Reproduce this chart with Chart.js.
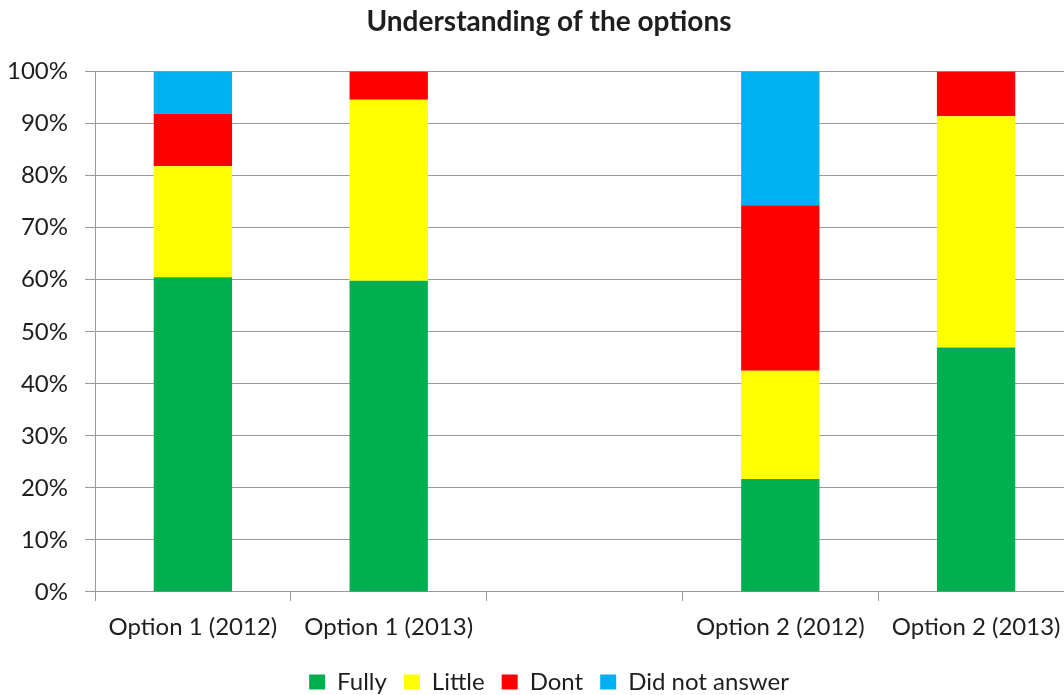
<!DOCTYPE html>
<html>
<head>
<meta charset="utf-8">
<title>Understanding of the options</title>
<script src="https://cdn.jsdelivr.net/npm/chart.js@4.4.1/dist/chart.umd.min.js"></script>
<style>
  html, body { margin: 0; padding: 0; background: #fff; overflow: hidden; }
  #wrap { width: 1098px; height: 695px; }
</style>
</head>
<body>
<div id="wrap"><canvas id="myChart"></canvas></div>
<script>
// categories (the blank one leaves the gap between option 1 and option 2)
const labels = ['Option 1 (2012)', 'Option 1 (2013)', '', 'Option 2 (2012)', 'Option 2 (2013)'];

// share of answers, %
const fully  = [60.5, 59.8, null, 21.7, 47.0];
const little = [21.3, 34.8, null, 20.8, 44.4];
const dont   = [10.1,  5.4, null, 31.8,  8.6];
const noAns  = [ 8.1,  0.0, null, 25.7,  0.0];

const yTicks = [0, 10, 20, 30, 40, 50, 60, 70, 80, 90, 100];

const ctx = document.getElementById('myChart');
const FONT = 'Lato, "Liberation Sans", sans-serif';
const GRID = '#9a9a9a';
const TEXT = '#1e1e1e';

new Chart(ctx, {
  type: 'bar',
  data: {
    labels: labels,
    datasets: [
      { label: 'Fully', data: fully, backgroundColor: '#00B050' },
      { label: 'Little', data: little, backgroundColor: '#FFFF00' },
      { label: 'Dont', data: dont, backgroundColor: '#FF0000' },
      { label: 'Did not answer', data: noAns, backgroundColor: '#00B0F0' }
    ]
  },
  options: {
    responsive: true,
    maintainAspectRatio: false,
    animation: false,
    datasets: {
      bar: { categoryPercentage: 1.0, barPercentage: 0.4, borderWidth: 0 }
    },
    layout: { padding: { left: 0, right: 0, top: 0, bottom: -9 } },
    plugins: {
      title: {
        display: true,
        text: 'Understanding of the options',
        color: TEXT,
        font: { family: FONT, size: 28, weight: 'bold' },
        padding: { top: 5, bottom: 33 }
      },
      legend: {
        position: 'bottom',
        labels: {
          color: TEXT,
          font: { family: FONT, size: 24 },
          boxWidth: 16,
          boxHeight: 15,
          padding: 17
        }
      },
      tooltip: { enabled: false }
    },
    scales: {
      x: {
        stacked: true,
        offset: true,
        grid: {
          offset: true,
          drawOnChartArea: false,
          drawTicks: true,
          tickLength: 9,
          color: GRID
        },
        border: { display: true, color: GRID },
        ticks: {
          color: TEXT,
          font: { family: FONT, size: 24, lineHeight: 1.667 },
          padding: 6,
          maxRotation: 0,
          autoSkip: false
        }
      },
      y: {
        stacked: true,
        min: 0,
        max: 100,
        afterFit: function (scale) { scale.width = 95; },
        afterBuildTicks: function (scale) {
          scale.ticks = yTicks.map(v => ({ value: v }));
        },
        grid: { color: GRID, tickLength: 10, drawTicks: true },
        border: { display: true, color: GRID },
        ticks: {
          color: TEXT,
          font: { family: FONT, size: 24 },
          padding: 17,
          callback: v => v + '%'
        }
      },
      // empty strip on the right so the plot runs past the page edge
      yRight: {
        type: 'linear',
        position: 'right',
        afterFit: function (scale) { scale.width = 24; },
        grid: { display: false },
        border: { display: false },
        ticks: { display: false }
      }
    }
  }
});
</script>
</body>
</html>
